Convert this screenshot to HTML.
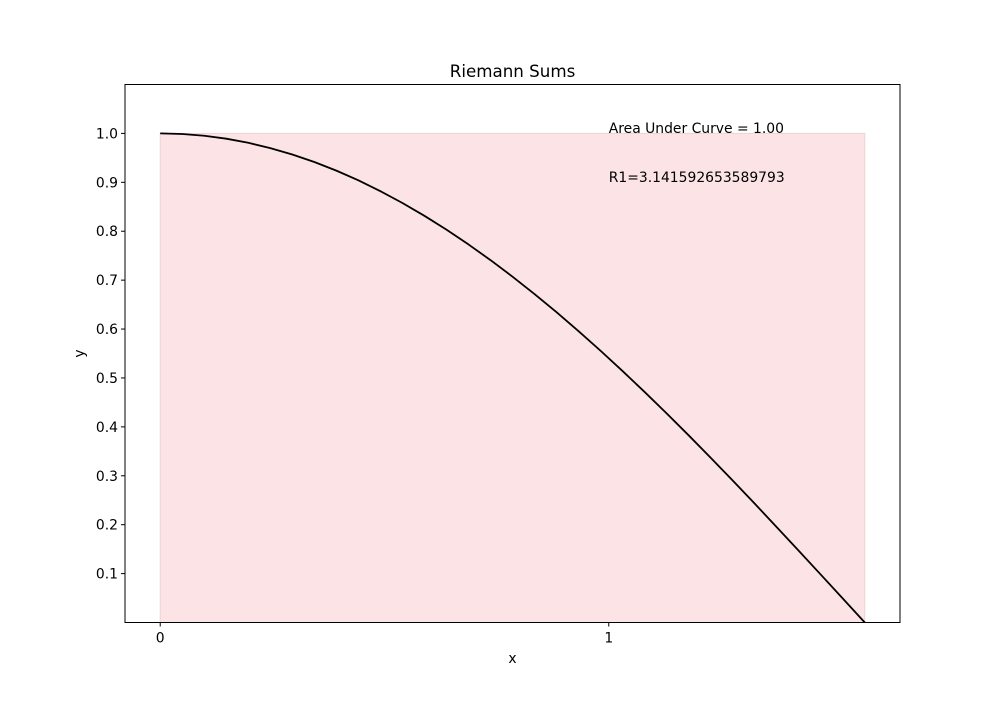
<!DOCTYPE html>
<html><head><meta charset="utf-8"><style>
body{margin:0;background:#fff;}
svg text{font-family:"DejaVu Sans","Liberation Sans",sans-serif;fill:#000;}
</style></head><body>
<svg id="chart" width="1000" height="700" xmlns="http://www.w3.org/2000/svg">
<rect width="1000" height="700" fill="#fff"/>
<g id="plot"></g>
</svg>
<script>
const curveX=[0,0.0491,0.0982,0.1473,0.1963,0.2454,0.2945,0.3436,0.3927,0.4418,0.4909,0.5400,0.5890,0.6381,0.6872,0.7363,0.7854,0.8345,0.8836,0.9327,0.9817,1.0308,1.0799,1.1290,1.1781,1.2272,1.2763,1.3254,1.3744,1.4235,1.4726,1.5217,1.5708];
const curveY=[1.0,0.9988,0.9952,0.9892,0.9808,0.9700,0.9569,0.9415,0.9239,0.9040,0.8819,0.8577,0.8315,0.8032,0.7730,0.7410,0.7071,0.6716,0.6344,0.5957,0.5556,0.5141,0.4714,0.4276,0.3827,0.3369,0.2903,0.2430,0.1951,0.1467,0.0980,0.0491,0.0];
const rectX=[0];
const rectW=[1.5708];
const rectH=[1.0];
const xTicks=[0,1];
const yTicks=[0.1,0.2,0.3,0.4,0.5,0.6,0.7,0.8,0.9,1.0];
const annotations=["Area Under Curve = 1.00","R1=3.141592653589793"];

const L=125,R=900,T=84.5,B=622.5;
const xMin=-0.0785,xMax=1.6493,yMin=0,yMax=1.1;
const sx=v=>L+(v-xMin)/(xMax-xMin)*(R-L);
const sy=v=>B-(v-yMin)/(yMax-yMin)*(B-T);
const NS="http://www.w3.org/2000/svg";
const g=document.getElementById('plot');
function mk(tag,attrs,parent){const e=document.createElementNS(NS,tag);for(const k in attrs)e.setAttribute(k,attrs[k]);(parent||g).appendChild(e);return e;}

rectX.forEach((x0,i)=>{
  const r=mk('rect',{x:sx(x0),y:sy(rectH[i]),width:sx(x0+rectW[i])-sx(x0),height:sy(0)-sy(rectH[i]),fill:'#fce4e6',stroke:'#f2d0d4','stroke-width':1});
  
  
});
let d='';
curveX.forEach((x,i)=>{d+=(i?'L':'M')+sx(x).toFixed(2)+','+sy(curveY[i]).toFixed(2);});
const p=mk('path',{d:d,fill:'none',stroke:'#000','stroke-width':1.8,'stroke-linejoin':'round'});



const frame=mk('rect',{x:L,y:T,width:R-L,height:B-T,fill:'none',stroke:'#000','stroke-width':1});



xTicks.forEach(v=>{
  const t=mk('line',{x1:sx(v),x2:sx(v),y1:B,y2:B+4,stroke:'#000'});
  
  
  const l=mk('text',{x:sx(v),y:B+20,'text-anchor':'middle','font-size':13.9});
  l.textContent=String(v);
  
  
});
yTicks.forEach(v=>{
  const t=mk('line',{x1:L-4,x2:L,y1:sy(v),y2:sy(v),stroke:'#000'});
  
  
  const l=mk('text',{x:L-7,y:sy(v)+5,'text-anchor':'end','font-size':13.9});
  l.textContent=v.toFixed(1);
  
  
});
const a1=mk('text',{x:sx(1),y:sy(1)-0.5,'font-size':13.9});
a1.textContent=annotations[0];


const a2=mk('text',{x:sx(1),y:sy(0.9)-0.5,'font-size':13.9});
a2.textContent=annotations[1];



const title=mk('text',{x:(L+R)/2,y:77,'text-anchor':'middle','font-size':16.7});
title.textContent='Riemann Sums';


const xl=mk('text',{x:(L+R)/2,y:663,'text-anchor':'middle','font-size':13.9});
xl.textContent='x';


const yl=mk('text',{x:84,y:(T+B)/2,'text-anchor':'middle','font-size':13.9,transform:'rotate(-90 84 '+(T+B)/2+')'});
yl.textContent='y';


</script>
</body></html>
